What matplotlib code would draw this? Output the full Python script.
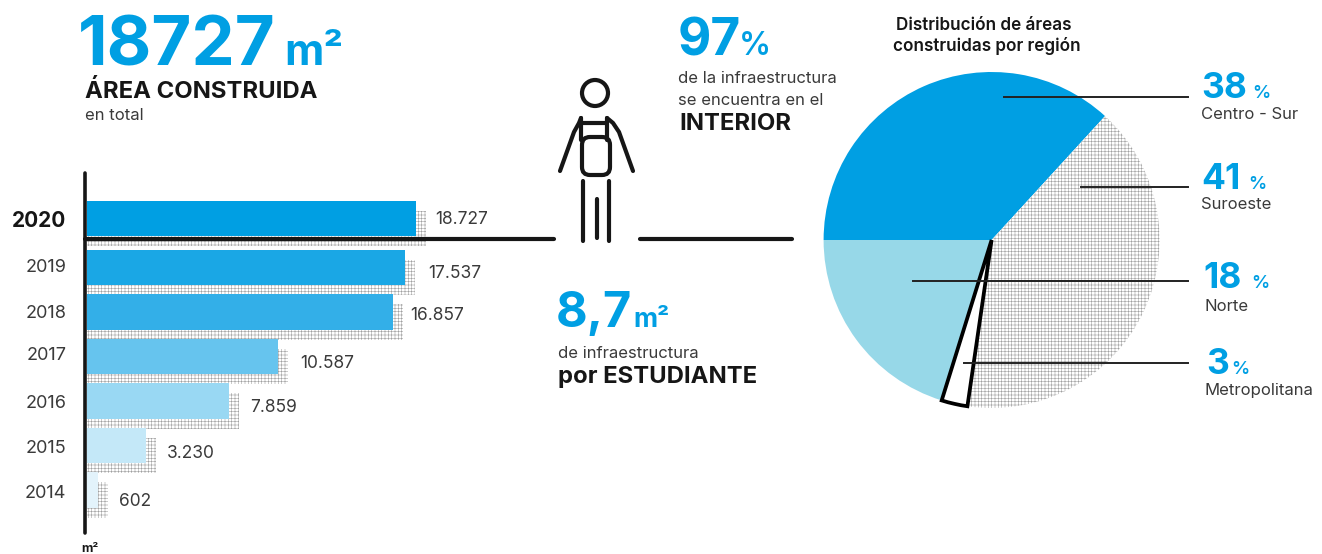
import numpy as np
import matplotlib
matplotlib.use('Agg')
import matplotlib.pyplot as plt
from matplotlib.patches import FancyBboxPatch

years = ['2020', '2019', '2018', '2017', '2016', '2015', '2014']
# printed figures; the drawn bars in the source are not quite to scale
area_labels = ['18.727', '17.537', '16.857', '10.587', '7.859', '3.230', '602']
bar_lengths = [18727, 18100, 17420, 10900, 8080, 3350, 640]
bar_colors = ['#009fe3', '#1aa7e5', '#33afe8', '#66c4ee', '#99d8f3', '#c4e8f8', '#e3f3fb']

regions = ['Centro - Sur', 'Suroeste', 'Norte', 'Metropolitana']
region_pct = ['38', '41', '18', '3']
# slice shares as measured on the pie: Centro-Sur, Suroeste, Metropolitana, Norte
pie_shares = [36.8, 40.5, 2.5, 20.2]

W, H = 1322, 554
BLUE = '#009fe3'
DARK = '#3a3a3a'
BLACK = '#161616'
BODY = 12
HEAD = 17.2
plt.rcParams['font.family'] = ['Inter', 'DejaVu Sans']
plt.rcParams['hatch.linewidth'] = 0.4

fig = plt.figure(figsize=(W / 100, H / 100), dpi=100)


def px_axes(x0, y0, x1, y1, **kw):
    return fig.add_axes([x0 / W, 1 - y1 / H, (x1 - x0) / W, (y1 - y0) / H], **kw)


# bars
PX_PER_M2 = 329 / 18727
ROW = 44.5
ax = px_axes(87, 160, 560, 540)
ax.set_xlim(0, 473 / PX_PER_M2)
ax.set_ylim((540 - 267.5) / ROW, (160 - 267.5) / ROW)
rows = np.arange(len(years), dtype=float) - 1
rows[0] = -1.1
shadow_x = 10 / PX_PER_M2
shadow_y = 10 / ROW
ax.barh(rows + shadow_y, np.array(bar_lengths) + shadow_x, height=35.5 / ROW, color='white',
        edgecolor='#a0a0a0', hatch='+++++', linewidth=0, zorder=1)
ax.barh(rows, bar_lengths, height=35.5 / ROW, color=bar_colors, linewidth=0, zorder=2)
ax.patch.set_alpha(0)
for s in ax.spines.values():
    s.set_visible(False)
ax.set_xticks([])
tick_nudge = np.array([0, -1.5, -1, -3, 0, 1, 1]) / ROW
ax.set_yticks(rows + tick_nudge, years)
ax.tick_params(axis='y', length=0, pad=15, labelsize=13, labelcolor=DARK)
ax.get_yticklabels()[0].set(fontsize=15, fontweight='bold', color=BLACK)
nudges = [(19, 1), (23, 6.5), (17, 3.5), (22, 6.5), (21, 7), (21, 7.5), (21, 12)]
for r, length, lab, (dx, dy) in zip(rows, bar_lengths, area_labels, nudges):
    ax.annotate(lab, (length, r), xytext=(dx * 0.72, -dy * 0.72), textcoords='offset points',
                va='center', ha='left', fontsize=12.5, color=DARK)

# pie
pie_ax = px_axes(823.6, 72, 1159.6, 408)
wedges, _ = pie_ax.pie(pie_shares, startangle=180, counterclock=False, radius=1)
pie_ax.set_xlim(-1, 1)
pie_ax.set_ylim(-1, 1)
wedges[0].set(facecolor=BLUE, edgecolor=BLUE, linewidth=0)
wedges[1].set(facecolor='white', edgecolor='#a0a0a0', hatch='+++++', linewidth=0)
wedges[3].set(facecolor='#97d8e8', edgecolor='#97d8e8', linewidth=0)
wedges[2].set(facecolor='white', edgecolor='black', linewidth=2.7, joinstyle='miter', zorder=5)

# everything else sits on a pixel overlay
ov = fig.add_axes([0, 0, 1, 1])
ov.set_xlim(0, W)
ov.set_ylim(H, 0)
ov.axis('off')
ov.patch.set_alpha(0)

ov.plot([85, 85], [173, 533], color=BLACK, lw=2.6, solid_capstyle='round')
ov.plot([85, 554], [239, 239], color=BLACK, lw=3, solid_capstyle='round')
ov.plot([640, 792], [239, 239], color=BLACK, lw=3, solid_capstyle='round')

leaders = [(1004, 97), (1081, 187), (913, 281), (964, 363)]
for x0, y in leaders:
    ov.plot([x0, 1188], [y, y], color='#222222', lw=1.4)

pct_pos = [(1201, 98, 1252, ), (1201, 189, 1248), (1203, 288, 1251), (1206, 374, 1231)]
reg_pos = [(1201, 119), (1201, 209), (1205, 311), (1205, 395)]
for reg, pct, (x, y, xp), (xr, yr) in zip(regions, region_pct, pct_pos, reg_pos):
    ov.text(x, y, pct, color=BLUE, fontsize=25.5, fontweight='bold', va='baseline')
    ov.text(xp, y, '%', color=BLUE, fontsize=13, fontweight='semibold', va='baseline')
    ov.text(xr, yr, reg, color=DARK, fontsize=BODY, va='baseline')

ov.text(984, 30, 'Distribución de áreas', ha='center', fontsize=12.3, fontweight='semibold', color=BLACK)
ov.text(987, 51, 'construidas por región', ha='center', fontsize=12.3, fontweight='semibold', color=BLACK)

ov.text(78, 65, '18727', color=BLUE, fontsize=49.5, fontweight='bold', va='baseline')
ov.text(284, 65, 'm²', color=BLUE, fontsize=31, fontweight='bold', va='baseline')
ov.text(85, 98, 'ÁREA CONSTRUIDA', fontsize=HEAD, fontweight='bold', color=BLACK)
ov.text(85, 120, 'en total', fontsize=BODY, color=DARK)
ov.text(81, 552, 'm²', fontsize=9, fontweight='bold', color=BLACK)

ov.text(678, 55, '97', color=BLUE, fontsize=37, fontweight='bold', va='baseline')
ov.text(739, 55, '%', color=BLUE, fontsize=23, fontweight='semibold', va='baseline')
ov.text(678, 83, 'de la infraestructura', fontsize=BODY, color=DARK)
ov.text(678, 105, 'se encuentra en el', fontsize=BODY, color=DARK)
ov.text(679, 130, 'INTERIOR', fontsize=HEAD, fontweight='bold', color=BLACK)

ov.text(556, 327, '8,7', color=BLUE, fontsize=35, fontweight='bold', va='baseline')
ov.text(633, 327, 'm²', color=BLUE, fontsize=19, fontweight='bold', va='baseline')
ov.text(558, 358, 'de infraestructura', fontsize=BODY, color=DARK)
ov.text(558, 383, 'por ESTUDIANTE', fontsize=HEAD, fontweight='bold', color=BLACK)

# person icon
ICON = dict(color=BLACK, lw=3, solid_capstyle='round', solid_joinstyle='round')
ov.add_patch(plt.Circle((595, 93), 13, fill=False, ec=BLACK, lw=3))
ov.plot([560, 574, 579, 581], [171, 132, 123, 118], **ICON)
ov.plot([633, 619, 613, 607], [171, 132, 123, 118], **ICON)
ov.plot([581, 581], [118, 140], **ICON)
ov.plot([607, 607], [118, 140], **ICON)
ov.plot([581, 607], [123, 123], **ICON)
ov.add_patch(FancyBboxPatch((586, 141), 20, 30, boxstyle='round,pad=4,rounding_size=8',
                            fill=False, ec=BLACK, lw=3))
ov.plot([583, 583], [181, 241], **ICON)
ov.plot([597, 597], [199, 238], **ICON)
ov.plot([609, 609], [181, 241], **ICON)

fig.savefig('out.png', dpi=100)
